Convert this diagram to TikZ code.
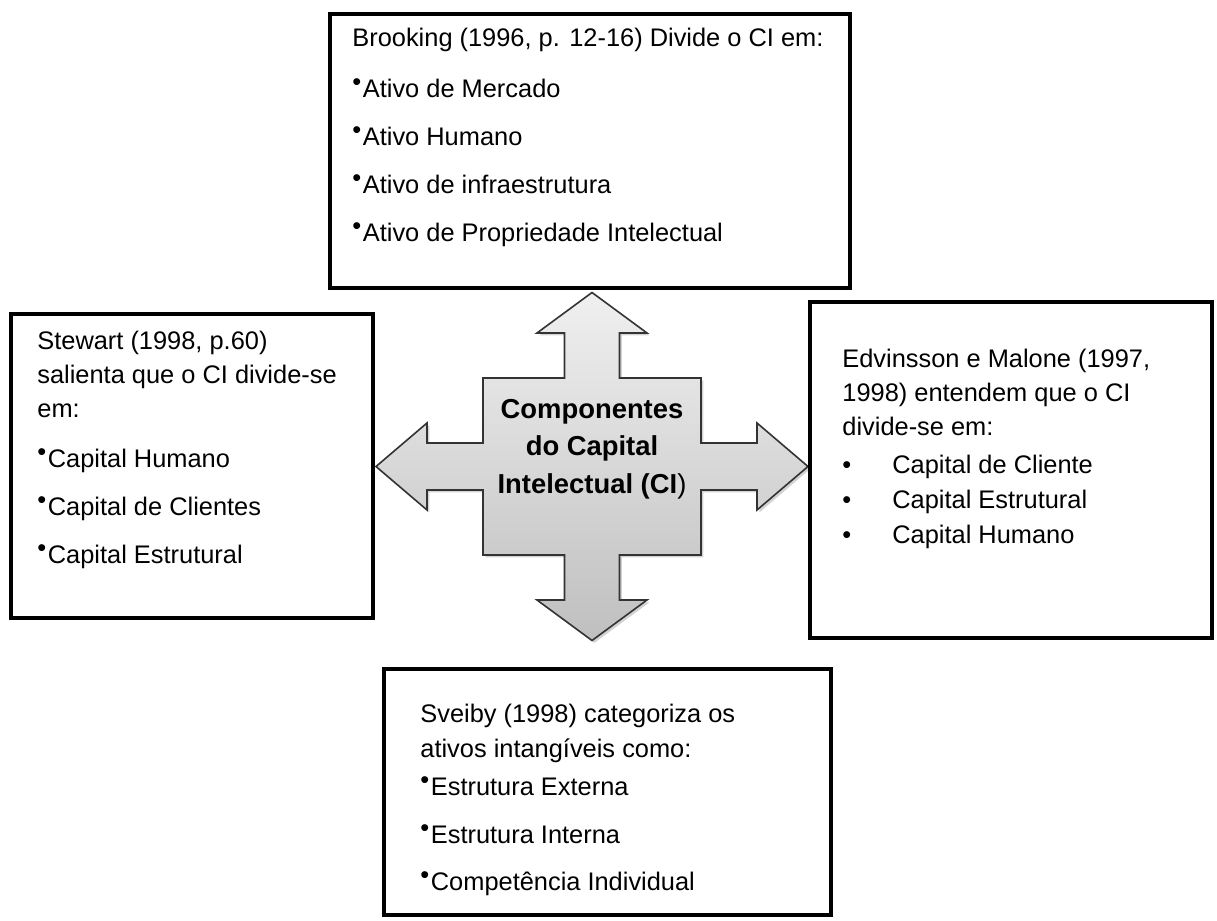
\documentclass[tikz,border=0pt]{standalone}
\usepackage{fontspec}
\setmainfont{Liberation Sans}
\usetikzlibrary{shadows}

\newcommand{\dotitem}{\raisebox{3.2pt}{\textbullet}\hspace{0.8pt}}
\newcommand{\tabitem}{\makebox[25pt][l]{\textbullet}}

\begin{document}
\begin{tikzpicture}[x=0.5pt, y=-0.5pt,
    cibox/.style={draw=black, line width=2.3pt},
    citext/.style={anchor=base west, align=left, inner sep=0pt, font=\fontsize{12.7pt}{17pt}\selectfont},
    cross/.style={draw=black!80, line width=0.8pt, top color=gray!12, bottom color=gray!50,
        drop shadow={shadow xshift=1.2pt, shadow yshift=-1.2pt, opacity=0.35}}]
    \useasboundingbox (0,0) rectangle (1217,921);
    \coordinate (C) at (592,466.5);
    \begin{scope}[shift={(C)}]
    \draw[cross] (0,-174) -- (55,-133.5) -- (27.5,-133.5) -- (27.5,-88.5) -- (109,-88.5)
        -- (109,-23.5) -- (165,-23.5) -- (165,-43.5) -- (216,0) -- (165,43.5) -- (165,23.5)
        -- (109,23.5) -- (109,88.5) -- (27.5,88.5) -- (27.5,133.5) -- (55,133.5) -- (0,174)
        -- (-55,133.5) -- (-27.5,133.5) -- (-27.5,88.5) -- (-109,88.5) -- (-109,23.5)
        -- (-165,23.5) -- (-165,43.5) -- (-216,0) -- (-165,-43.5) -- (-165,-23.5)
        -- (-109,-23.5) -- (-109,-88.5) -- (-27.5,-88.5) -- (-27.5,-133.5) -- (-55,-133.5) -- cycle;
    \end{scope}
    \node[font=\bfseries\fontsize{13.7pt}{18.75pt}\selectfont, align=center, anchor=base, inner sep=0pt]
        (ci) at (592,493) {Componentes\\do Capital\\Intelectual (CI\textmd{)}};

    \draw[cibox] (330,14) rectangle (850,288);
    \draw[cibox] (11,314) rectangle (373,618);
    \draw[cibox] (810,302) rectangle (1212,638);
    \draw[cibox] (384,669) rectangle (831,915);

    \node[citext] (brooking) at (352,241) {Brooking (1996, p. 12-16) Divide o CI em:\\[8.5pt]
        \dotitem Ativo de Mercado\\[7pt]
        \dotitem Ativo Humano\\[7pt]
        \dotitem Ativo de infraestrutura\\[7pt]
        \dotitem Ativo de Propriedade Intelectual};
    \node[citext] (stewart) at (37,563) {Stewart (1998, p.60)\\
        salienta que o CI divide-se\\
        em:\\[8pt]
        \dotitem Capital Humano\\[7pt]
        \dotitem Capital de Clientes\\[7pt]
        \dotitem Capital Estrutural};
    \node[citext] (edvinsson) at (842,543) {Edvinsson e Malone (1997,\\
        1998) entendem que o CI\\
        divide-se em:\\[2pt]
        \tabitem Capital de Cliente\\[0.5pt]
        \tabitem Capital Estrutural\\[0.5pt]
        \tabitem Capital Humano};
    \node[citext] (sveiby) at (420,890) {Sveiby (1998) categoriza os\\[0.5pt]
        ativos intangíveis como:\\[2pt]
        \dotitem Estrutura Externa\\[7pt]
        \dotitem Estrutura Interna\\[6.5pt]
        \dotitem Competência Individual};
\end{tikzpicture}
\end{document}
